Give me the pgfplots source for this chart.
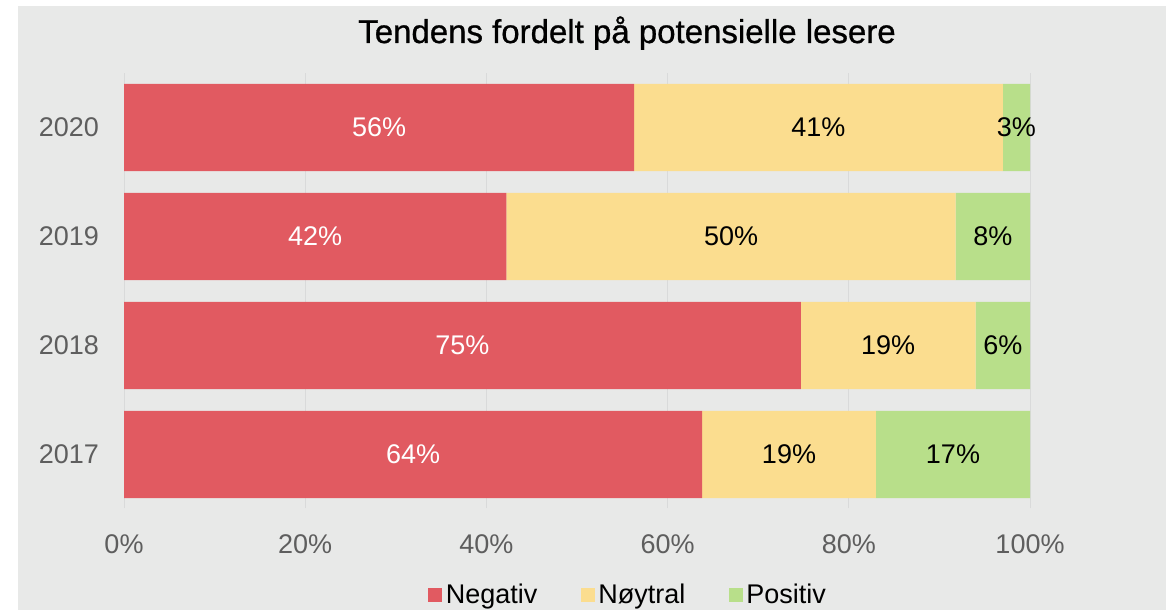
\documentclass[border=0pt]{standalone}
\usepackage{fontspec}
\setmainfont{Liberation Sans}
\newfontfamily\titlefont[FakeBold=0.8]{Liberation Sans}
\usepackage{pgfplots}
\pgfplotsset{compat=1.18}
\definecolor{bg}{HTML}{E8E9E8}
\definecolor{neg}{HTML}{E15A61}
\definecolor{neu}{HTML}{FBDD8F}
\definecolor{pos}{HTML}{B8DF8A}
\definecolor{gridc}{HTML}{D9DADA}
\definecolor{tickc}{HTML}{5E5E5E}
\pgfplotsset{common/.style={
  at={(62pt,51pt)}, anchor=south west, scale only axis,
  width=453pt, height=217.5pt,
  xmin=0, xmax=100, ymin=-0.49, ymax=3.5}}
\begin{document}
\begin{tikzpicture}[font=\fontsize{13.5}{16}\selectfont]
\fill[white] (0,0) rectangle (583pt,305pt);
\fill[bg] (9pt,0) rectangle (583pt,302pt);
\node[font=\titlefont\fontsize{16.5}{20}\selectfont, anchor=base] at (313.5pt,283.5pt) {Tendens fordelt på potensielle lesere};
\begin{axis}[
  common,
  xbar stacked, bar width=0.8,
  ytick={0,1,2,3}, yticklabels={2017,2018,2019,2020},
  xtick={0,20,40,60,80,100},
  xticklabels={0\%,20\%,40\%,60\%,80\%,100\%},
  axis line style={draw=none}, major tick length=0pt,
  xmajorgrids, grid style={gridc, line width=0.5pt},
  tick label style={text=tickc, font=\fontsize{13.5}{16}\selectfont},
  xticklabel style={anchor=base, yshift=-22.5pt},
  yticklabel style={xshift=-9pt},
  legend columns=3,
  legend image code/.code={\fill[#1] (0pt,-3.5pt) rectangle (7pt,3.5pt);},
  legend style={at={(0.3355,-0.2)}, anchor=west, draw=none, fill=none,
    inner sep=0pt, font=\fontsize{13.5}{16}\selectfont,
    /tikz/every even column/.append style={column sep=20pt},
    nodes={inner xsep=1.75pt}},
]
\addplot[fill=neg, draw=none]
  coordinates {(63.8,0) (74.7,1) (42.2,2) (56.3,3)};
\addplot[fill=neu, draw=none]
  coordinates {(19.2,0) (19.3,1) (49.6,2) (40.7,3)};
\addplot[fill=pos, draw=none]
  coordinates {(17.0,0) (6.0,1) (8.2,2) (3.0,3)};
\legend{Negativ,Nøytral,Positiv}
\end{axis}
\begin{axis}[
  common, hide axis,
  point meta=explicit symbolic,
  nodes near coords,
  every node near coord/.append style={anchor=center, font=\fontsize{13.5}{16}\selectfont},
]
\addplot[draw=none, mark=none, every node near coord/.append style={text=white}]
  coordinates {(31.9,0) [64\%] (37.35,1) [75\%] (21.1,2) [42\%] (28.15,3) [56\%]};
\addplot[draw=none, mark=none, every node near coord/.append style={text=black}]
  coordinates {(73.4,0) [19\%] (84.35,1) [19\%] (67.0,2) [50\%] (76.65,3) [41\%]};
\addplot[draw=none, mark=none, every node near coord/.append style={text=black}]
  coordinates {(91.5,0) [17\%] (97.0,1) [6\%] (95.9,2) [8\%] (98.5,3) [3\%]};
\end{axis}
\end{tikzpicture}
\end{document}
